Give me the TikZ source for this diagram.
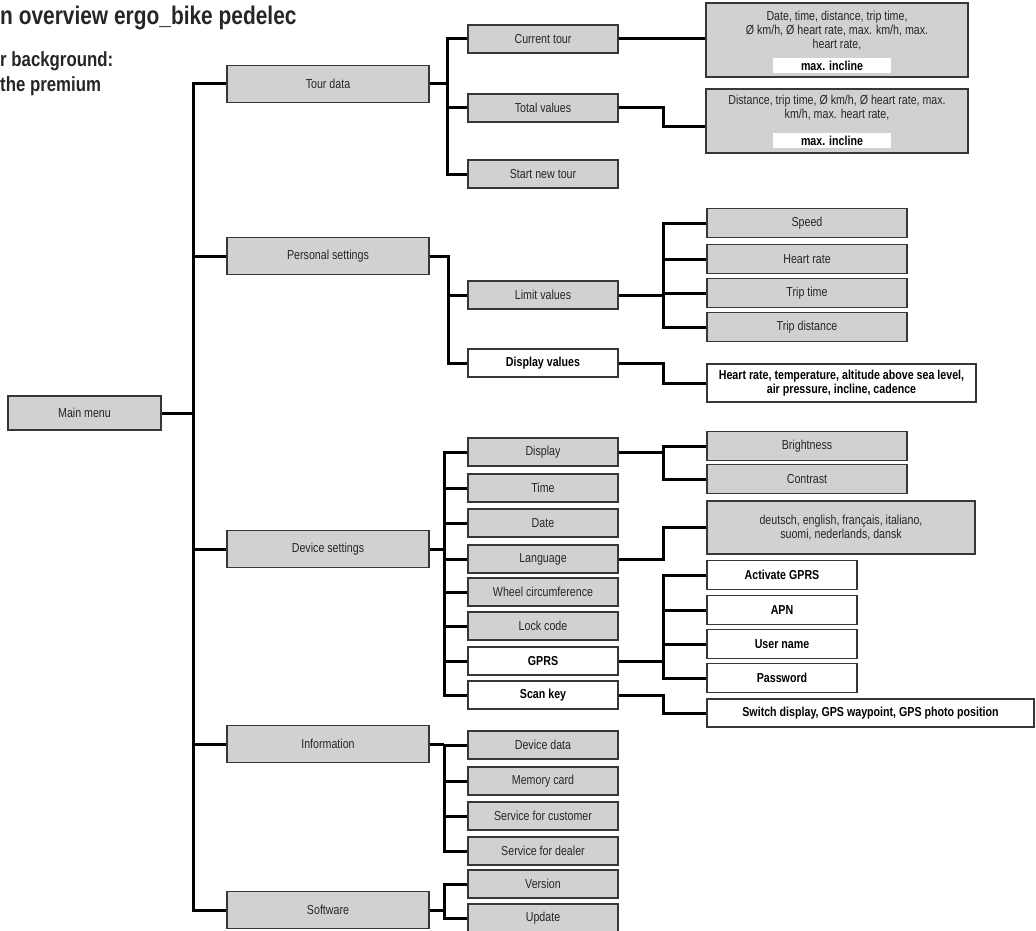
\documentclass[tikz,border=0pt]{standalone}
\usepackage{fontspec}
\setmainfont{Liberation Sans}[FakeStretch=0.82]
\usetikzlibrary{calc}
\definecolor{boxgray}{RGB}{208,209,211}
\definecolor{edgegray}{RGB}{55,55,55}
\newcommand{\boxfont}{\fontsize{13}{14}\selectfont}
\begin{document}
\begin{tikzpicture}[x=1pt,y=-1pt,
  box/.style={draw=edgegray, line width=1.3pt, fill=boxgray, inner sep=0pt, font=\boxfont, text=black!85},
  wbox/.style={box, fill=white, font=\boxfont\bfseries, text=black},
  lz/.style={minimum width=153pt, minimum height=34pt},
  lone/.style={minimum width=202pt, minimum height=37pt},
  ltwo/.style={minimum width=150pt, minimum height=28pt},
  lthree/.style={minimum width=200pt, minimum height=29pt},
  lg/.style={minimum width=150pt, minimum height=29pt},
  txt/.style={inner sep=0pt, align=center, font=\boxfont, text=black!85},
  hl/.style={fill=white, inner sep=0pt, minimum width=118pt, minimum height=15pt, font=\boxfont\bfseries, text=black},
  conn/.style={line width=3pt, line join=miter, line cap=butt},
  title/.style={anchor=base west, inner sep=0pt, font=\fontsize{25.5}{28}\selectfont\bfseries, text=black!85},
  sub/.style={anchor=base west, inner sep=0pt, font=\fontsize{20.5}{24}\selectfont\bfseries, text=black!85}]
\useasboundingbox (0,0) rectangle (1036,931);

% title texts
\node[title] (ttl) at (0,25) {n overview ergo\_bike pedelec};
\node[sub] (sub1) at (0,67) {r background:};
\node[sub] (sub2) at (0,92) {the premium};

% trunk coordinates
\coordinate (t1) at (193,0);
\coordinate (t2) at (447,0);
\coordinate (t3) at (448,0);
\coordinate (t4) at (444,0);
\coordinate (u) at (663,0);

% level 0 / 1
\node[box,lz] (main) at (84.5,413) {Main menu};
\node[box,lone] (tour) at (328,84) {Tour data};
\node[box,lone] (personal) at (328,256) {Personal settings};
\node[box,lone] (device) at (328,549) {Device settings};
\node[box,lone] (info) at (328,744) {Information};
\node[box,lone] (soft) at (328,910) {Software};

% level 2
\node[box,ltwo] (cur) at (543,39) {Current tour};
\node[box,ltwo] (tot) at (543,108) {Total values};
\node[box,ltwo] (start) at (543,174) {Start new tour};
\node[box,ltwo] (limit) at (543,295) {Limit values};
\node[wbox,ltwo] (dispv) at (543,363) {Display values};
\node[box,ltwo] (disp) at (543,452) {Display};
\node[box,ltwo] (time) at (543,488) {Time};
\node[box,ltwo] (date) at (543,523) {Date};
\node[box,ltwo] (lang) at (543,559) {Language};
\node[box,ltwo] (wheel) at (543,592) {Wheel circumference};
\node[box,ltwo] (lock) at (543,626) {Lock code};
\node[wbox,ltwo] (gprs) at (543,661) {GPRS};
\node[wbox,ltwo] (scan) at (543,695) {Scan key};
\node[box,ltwo] (ddata) at (543,745) {Device data};
\node[box,ltwo] (mem) at (543,781) {Memory card};
\node[box,ltwo] (scust) at (543,816) {Service for customer};
\node[box,ltwo] (sdeal) at (543,851) {Service for dealer};
\node[box,ltwo] (ver) at (543,884) {Version};
\node[box,ltwo] (upd) at (543,918) {Update};

% level 3
\node[box,lthree] (speed) at (807,223) {Speed};
\node[box,lthree] (hr) at (807,259) {Heart rate};
\node[box,lthree] (triptime) at (807,293) {Trip time};
\node[box,lthree] (tripdist) at (807,327) {Trip distance};
\node[box,lthree] (bright) at (807,446) {Brightness};
\node[box,lthree] (contrast) at (807,479) {Contrast};
\node[wbox,lg] (act) at (782,575) {Activate GPRS};
\node[wbox,lg] (apn) at (782,610) {APN};
\node[wbox,lg] (user) at (782,644) {User name};
\node[wbox,lg] (pass) at (782,678) {Password};

% detail boxes
\node[box, minimum width=262pt, minimum height=74pt] (curdet) at (837,40) {};
\node[txt] (curtxt) at (837,31) {Date, time, distance, trip time,\\Ø km/h, Ø heart rate, max. km/h, max.\\heart rate,};
\node[hl] (curmax) at (832,65.5) {max. incline};
\node[box, minimum width=262pt, minimum height=64pt] (totdet) at (837,121) {};
\node[txt] (tottxt) at (837,108) {Distance, trip time, Ø km/h, Ø heart rate, max.\\km/h, max. heart rate,};
\node[hl] (totmax) at (832,141) {max. incline};
\node[wbox, minimum width=269pt, minimum height=38pt, align=center] (dvdet) at (841.5,383) {Heart rate, temperature, altitude above sea level,\\air pressure, incline, cadence};
\node[box, minimum width=268pt, minimum height=53pt, align=center] (langdet) at (841,527.5) {deutsch, english, français, italiano,\\suomi, nederlands, dansk};
\node[wbox, minimum width=327pt, minimum height=28pt] (scandet) at (870.5,713) {Switch display, GPS waypoint, GPS photo position};

% connectors: main trunk
\draw[conn] (tour.west) -| (t1 |- soft.west) -- (soft.west);
\draw[conn] (main.east) -- (t1 |- main.east);
\draw[conn] (personal.west) -- (t1 |- personal.west);
\draw[conn] (device.west) -- (t1 |- device.west);
\draw[conn] (info.west) -- (t1 |- info.west);

% tour data
\draw[conn] (cur.west) -| (t2 |- start.west) -- (start.west);
\draw[conn] (tour.east) -- (t2 |- tour.east);
\draw[conn] (tot.west) -- (t2 |- tot.west);
\draw[conn] (cur.east) -- (cur.east -| curdet.west);
\draw[conn] (tot.east) -| ($(u |- totdet.west)+(0,6)$) -- ($(totdet.west)+(0,6)$);

% personal settings
\draw[conn] (personal.east) -| (t3 |- dispv.west) -- (dispv.west);
\draw[conn] (limit.west) -- (t3 |- limit.west);
\draw[conn] (speed.west) -| (u |- tripdist.west) -- (tripdist.west);
\draw[conn] (limit.east) -- (u |- limit.east);
\draw[conn] (hr.west) -- (u |- hr.west);
\draw[conn] (triptime.west) -- (u |- triptime.west);
\draw[conn] (dispv.east) -| (u |- dvdet.west) -- (dvdet.west);

% device settings
\draw[conn] (disp.west) -| (t4 |- scan.west) -- (scan.west);
\draw[conn] (device.east) -- (t4 |- device.east);
\draw[conn] (time.west) -- (t4 |- time.west);
\draw[conn] (date.west) -- (t4 |- date.west);
\draw[conn] (lang.west) -- (t4 |- lang.west);
\draw[conn] (wheel.west) -- (t4 |- wheel.west);
\draw[conn] (lock.west) -- (t4 |- lock.west);
\draw[conn] (gprs.west) -- (t4 |- gprs.west);
\draw[conn] (bright.west) -| (u |- contrast.west) -- (contrast.west);
\draw[conn] (disp.east) -- (u |- disp.east);
\draw[conn] (lang.east) -| (u |- langdet.west) -- (langdet.west);
\draw[conn] (act.west) -| (u |- pass.west) -- (pass.west);
\draw[conn] (gprs.east) -- (u |- gprs.east);
\draw[conn] (apn.west) -- (u |- apn.west);
\draw[conn] (user.west) -- (u |- user.west);
\draw[conn] (scan.east) -| (u |- scandet.west) -- (scandet.west);

% information
\draw[conn] (ddata.west) -| (t4 |- sdeal.west) -- (sdeal.west);
\draw[conn] (info.east) -- (t4 |- info.east);
\draw[conn] (mem.west) -- (t4 |- mem.west);
\draw[conn] (scust.west) -- (t4 |- scust.west);

% software
\draw[conn] (ver.west) -| (t4 |- upd.west) -- (upd.west);
\draw[conn] (soft.east) -- (t4 |- soft.east);
\end{tikzpicture}
\end{document}
